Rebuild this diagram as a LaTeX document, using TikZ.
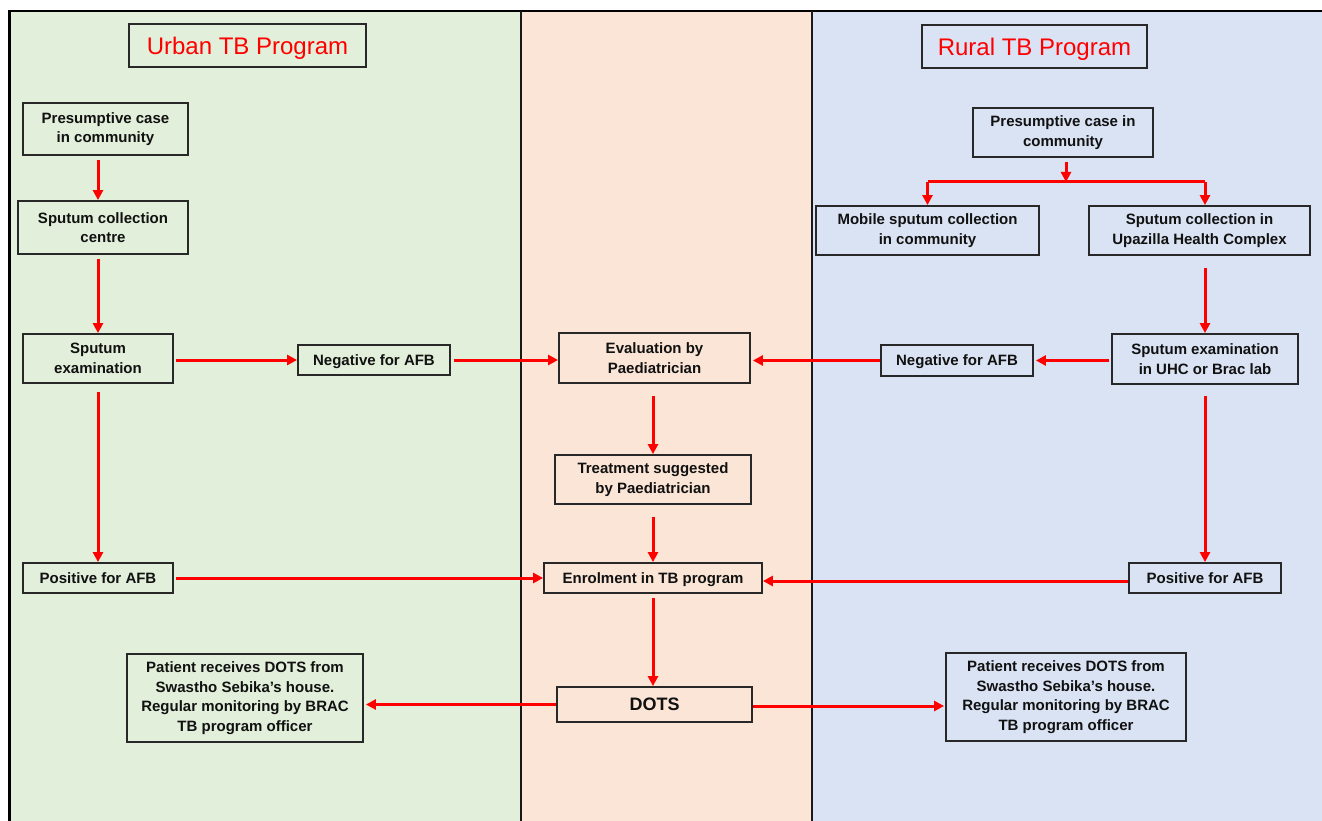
\documentclass[tikz,border=0pt]{standalone}
\usepackage{fontspec}
\setmainfont{Liberation Sans}
\usetikzlibrary{arrows.meta}
\definecolor{pgreen}{RGB}{226,239,218}
\definecolor{ppeach}{RGB}{251,229,214}
\definecolor{pblue}{RGB}{218,227,243}
\definecolor{boxline}{RGB}{40,40,40}
\definecolor{txt}{RGB}{17,17,17}
\begin{document}
\begin{tikzpicture}[x=1pt,y=-1pt,
  box/.style={draw=boxline, line width=1.8pt, inner sep=0pt, align=center, text=txt,
    font=\fontsize{15}{19.5}\selectfont\bfseries},
  oneline/.style={text height=10.7pt, text depth=0pt},
  titlebox/.style={draw=boxline, line width=2pt, inner sep=0pt, text=red,
    font=\fontsize{24}{28}\selectfont, text height=17.2pt, text depth=0pt},
  arr/.style={red, line width=3pt, -{Triangle[length=10pt,width=10pt]}},
  ln/.style={red, line width=3pt}]
\useasboundingbox (0,0) rectangle (1322,821);
% panels
\fill[white] (0,0) rectangle (1322,821);
\fill[pgreen] (9,11) rectangle (521,821);
\fill[ppeach] (521,11) rectangle (812,821);
\fill[pblue] (812,11) rectangle (1322,821);
\draw[black, line width=2.5pt] (9.5,821) -- (9.5,11) -- (1322,11);
\draw[black!90, line width=2pt] (521,11) -- (521,821);
\draw[black!90, line width=2pt] (812,11) -- (812,821);
% titles
\node[titlebox, minimum width=237, minimum height=43] (ut) at (247.5,45.5) {Urban TB Program};
\node[titlebox, minimum width=225, minimum height=43] (rt) at (1034.5,46.5) {Rural TB Program};
% urban column
\node[box, minimum width=165, minimum height=52] (u1) at (105.5,129) {Presumptive case\\in community};
\node[box, minimum width=170, minimum height=53] (u2) at (103,227.5) {Sputum collection\\centre};
\node[box, minimum width=150, minimum height=49] (u3) at (98,358.5) {Sputum\\examination};
\node[box, oneline, minimum width=152, minimum height=30] (uneg) at (374,360) {Negative for AFB};
\node[box, oneline, minimum width=150, minimum height=30] (upos) at (98,578) {Positive for AFB};
\node[box, minimum width=236, minimum height=88] (udots) at (245,698) {Patient receives DOTS from\\Swastho Sebika’s house.\\Regular monitoring by BRAC\\TB program officer};
% centre column
\node[box, minimum width=191, minimum height=50] (c1) at (654.5,358) {Evaluation by\\Paediatrician};
\node[box, minimum width=196, minimum height=49] (c2) at (653,479.5) {Treatment suggested\\by Paediatrician};
\node[box, oneline, minimum width=218, minimum height=30] (c3) at (653,578) {Enrolment in TB program};
\node[box, minimum width=195, minimum height=35, font=\fontsize{18}{22}\selectfont\bfseries, text height=12.9pt, text depth=0pt] (c4) at (654.5,704.5) {DOTS};
% rural column
\node[box, minimum width=180, minimum height=49] (r1) at (1063,132.5) {Presumptive case in\\community};
\node[box, minimum width=223, minimum height=49] (r2a) at (927.5,230.5) {Mobile sputum collection\\in community};
\node[box, minimum width=221, minimum height=49] (r2b) at (1199.5,230.5) {Sputum collection in\\Upazilla Health Complex};
\node[box, minimum width=186, minimum height=50] (r3) at (1205,359) {Sputum examination\\in UHC or Brac lab};
\node[box, oneline, minimum width=152, minimum height=31] (rneg) at (957,360.5) {Negative for AFB};
\node[box, oneline, minimum width=152, minimum height=30] (rpos) at (1205,578) {Positive for AFB};
\node[box, minimum width=240, minimum height=88] (rdots) at (1066,697) {Patient receives DOTS from\\Swastho Sebika’s house.\\Regular monitoring by BRAC\\TB program officer};
\coordinate (split) at (1066,182);
\coordinate (c4e) at ([yshift=-1.5pt]c4.east);
\coordinate (rposw) at ([yshift=-3pt]rpos.west);
% urban arrows
\draw[arr, shorten <=4pt] (u1.south -| u3) -- (u2.north -| u3);
\draw[arr, shorten <=4pt] (u2.south -| u3) -- (u3.north);
\draw[arr, shorten <=2pt] (u3.east |- uneg) -- (uneg.west);
\draw[arr, shorten <=3pt] (uneg.east) -- (c1.west |- uneg);
\draw[arr, shorten <=8pt] (u3.south) -- (upos.north);
\draw[arr, shorten <=2pt] (upos.east) -- (c3.west);
% centre arrows
\draw[arr, shorten <=12pt] (c1.south -| c3) -- (c2.north -| c3);
\draw[arr, shorten <=12pt] (c2.south -| c3) -- (c3.north);
\draw[arr, shorten <=4pt] (c3.south) -- (c4.north -| c3);
\draw[arr, shorten >=2pt] (c4.west) -- (udots.east |- c4);
\draw[arr, shorten >=1pt] (c4e) -- (rdots.west |- c4e);
% rural arrows
\draw[arr, shorten <=4pt] (r1.south -| split) -- (split);
\draw[ln] (split -| r2a) -- (split -| r3);
\draw[arr] (split -| r2a) -- (r2a.north);
\draw[arr] (split -| r3) -- (r2b.north -| r3);
\draw[arr, shorten <=12pt] (r2b.south -| r3) -- (r3.north);
\draw[arr, shorten <=2pt, shorten >=2pt] (r3.west |- rneg) -- (rneg.east);
\draw[arr, shorten >=2pt] (rneg.west) -- (c1.east |- rneg);
\draw[arr, shorten <=11pt] (r3.south) -- (rpos.north);
\draw[arr] (rposw) -- (c3.east |- rposw);
\end{tikzpicture}
\end{document}
